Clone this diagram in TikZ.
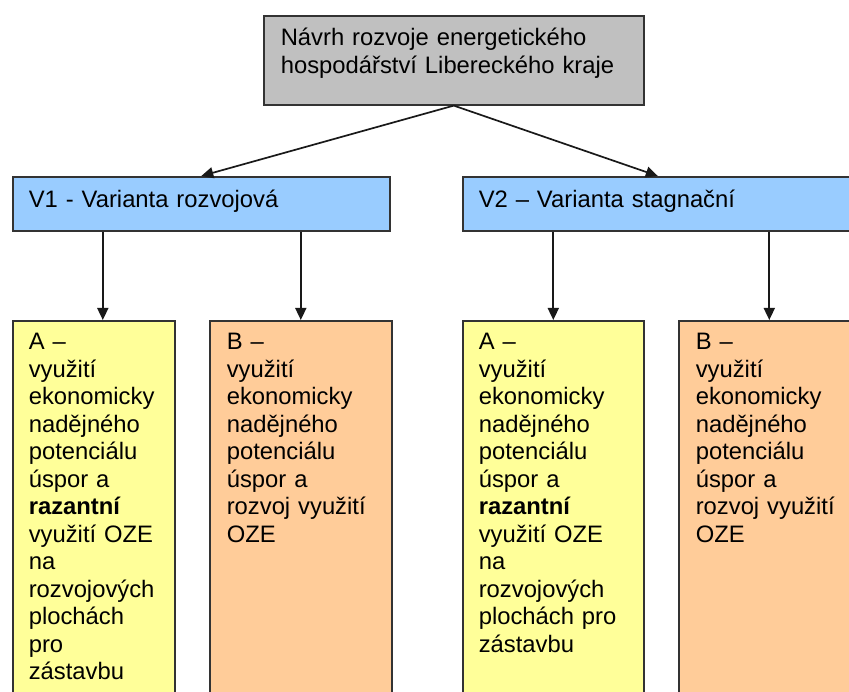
\documentclass[tikz,border=0pt]{standalone}
\usepackage{fontspec}
\setmainfont{Liberation Sans}
\usepackage{xcolor}
\usetikzlibrary{arrows.meta, positioning}

\definecolor{boxgray}{HTML}{C0C0C0}
\definecolor{boxblue}{HTML}{99CCFF}
\definecolor{boxyellow}{HTML}{FFFF99}
\definecolor{boxorange}{HTML}{FFCC99}

\begin{document}
\begin{tikzpicture}[
  x=1pt, y=-1pt,
  every node/.style={font=\fontsize{23.8}{27.5}\selectfont},
  planbox/.style={
    rectangle, anchor=north west,
    draw=black!80, fill=#1,
    align=left, inner xsep=16pt, inner ysep=0pt,
    line width=1.6pt},
  varbox/.style={planbox=boxblue, text width=#1,
    text height=31pt, text depth=23pt},
  subbox/.style 2 args={planbox=#1, text width=#2,
    text height=29pt, text depth=371pt},
  arr/.style={-{Triangle[length=12pt,width=11pt]}, line width=1.7pt, color=black!90}
]

\useasboundingbox (0,0) rectangle (849,692);
\clip (0,0) rectangle (849,692);

%% ── TOP ──────────────────────────────────────────────────
\node[planbox=boxgray, inner xsep=17pt, text width=346pt,
      text height=30pt, text depth=59pt] (navrh) at (263,15)
      {Návrh rozvoje energetického\\hospodářství Libereckého kraje};

%% ── VARIANTS ─────────────────────────────────────────────
\node[varbox=345pt] (var1) at (12,176)  {V1 - Varianta rozvojová};
\node[varbox=358pt] (var2) at (462,176) {V2 – Varianta stagnační};

\draw[arr] (navrh.south) -- (var1.north);
\draw[arr] (navrh.south) -- (var2.north);

%% ── SUB-VARIANTS ─────────────────────────────────────────
\node[subbox={boxyellow}{130pt}] (v1a) at (12,320)
      {A –\\využití\\ekonomicky\\nadějného\\potenciálu\\úspor a\\
       \textbf{razantní}\\využití OZE\\na\\rozvojových\\plochách\\pro\\zástavbu};
\node[subbox={boxorange}{148pt}, inner xsep=17pt] (v1b) at (209,320)
      {B –\\využití\\ekonomicky\\nadějného\\potenciálu\\úspor a\\
       rozvoj využití\\OZE};
\node[subbox={boxyellow}{149pt}] (v2a) at (462,320)
      {A –\\využití\\ekonomicky\\nadějného\\potenciálu\\úspor a\\
       \textbf{razantní}\\využití OZE\\na\\rozvojových\\plochách pro\\zástavbu};
\node[subbox={boxorange}{147pt}, inner xsep=17pt] (v2b) at (678,320)
      {B –\\využití\\ekonomicky\\nadějného\\potenciálu\\úspor a\\
       rozvoj využití\\OZE};

%% Variant arrows
\draw[arr] ([xshift=9pt]var1.south -| v1a.north) -- ([xshift=9pt]v1a.north);
\draw[arr] (var1.south -| v1b.north) -- (v1b.north);
\draw[arr] (var2.south -| v2a.north) -- (v2a.north);
\draw[arr] (var2.south -| v2b.north) -- (v2b.north);

\end{tikzpicture}
\end{document}
